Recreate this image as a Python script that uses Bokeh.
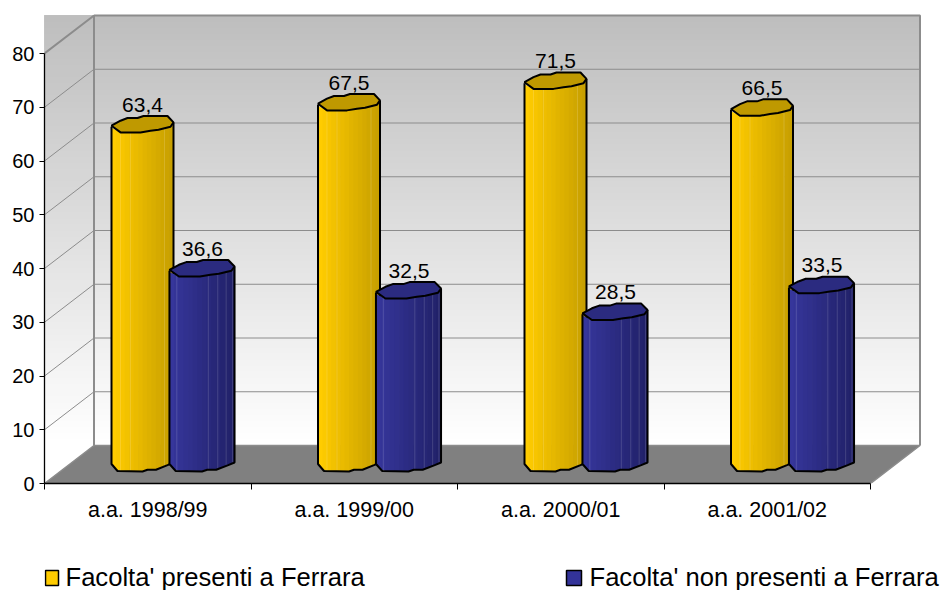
import numpy as np
from bokeh.embed import file_html
from bokeh.resources import INLINE
from bokeh.plotting import figure
from bokeh.layouts import column
from bokeh.models import Range1d, FixedTicker
from bokeh.core.properties import value

categories = ["a.a. 1998/99", "a.a. 1999/00", "a.a. 2000/01", "a.a. 2001/02"]
presenti = [63.4, 67.5, 71.5, 66.5]
non_presenti = [36.6, 32.5, 28.5, 33.5]
y_ticks = [0, 10, 20, 30, 40, 50, 60, 70, 80]
series_names = ["Facolta' presenti a Ferrara", "Facolta' non presenti a Ferrara"]

FONT = "Liberation Sans"
W, H = 942, 530
LEG_H = 60
LEFT, TOP_B, BOTTOM_B = 44, 13, 47
fw, fh = W - LEFT, 470
PX_X = 206.5          # pixels per category
PX_Y = 430 / 80       # pixels per value unit
DX = 49.5 / PX_X      # chart depth
DY = 38 / PX_Y

p = figure(width=W, height=H, output_backend="svg", toolbar_location=None,
           x_range=Range1d(0, fw / PX_X), y_range=Range1d(0, fh / PX_Y),
           min_border_left=LEFT, min_border_right=0,
           min_border_top=TOP_B, min_border_bottom=BOTTOM_B)
p.outline_line_color = None
p.grid.visible = False
p.background_fill_color = "white"

# axes
ya = p.yaxis[0]
ya.ticker = FixedTicker(ticks=y_ticks)
ya.bounds = (0, 80)
ya.axis_line_color = "black"
ya.axis_line_width = 1.3
ya.major_tick_line_color = "black"
ya.major_tick_in = 0
ya.major_tick_out = 5
ya.minor_tick_line_color = None
ya.major_label_standoff = 5
ya.major_label_text_font = FONT
ya.major_label_text_font_size = "20px"
ya.major_label_text_color = "black"

xa = p.xaxis[0]
xa.ticker = FixedTicker(ticks=[i + 0.5 for i in range(4)], minor_ticks=[0, 1, 2, 3, 4])
xa.bounds = (0, 4)
xa.major_label_overrides = {i + 0.5: c for i, c in enumerate(categories)}
xa.axis_line_color = "black"
xa.axis_line_width = 1.3
xa.major_tick_line_color = None
xa.minor_tick_line_color = "black"
xa.minor_tick_in = 0
xa.minor_tick_out = 6
xa.major_label_standoff = 8
xa.major_label_text_font = FONT
xa.major_label_text_font_size = "21.5px"
xa.major_label_text_color = "black"

# walls: gradient behind everything
n = 70
wall_top = 80 + DY
levels = np.linspace(DY, wall_top, n + 1)[:-1]
tone = np.linspace(255, 190, n).round().astype(int)
p.quad(left=0, right=4 + DX, bottom=levels, top=wall_top,
       fill_color=[f"#{t:02x}{t:02x}{t:02x}" for t in tone], line_color=None)

# grid lines
GRID = "#8c8c8c"
for v in y_ticks[1:-1]:
    p.line([0, DX, 4 + DX], [v, v + DY, v + DY], line_color=GRID, line_width=1)
# floor
p.patch([0, 4, 4 + DX, DX], [0, 0, DY, DY], fill_color="#808080", line_color=None)
# heavier frame of walls
p.line([0, DX, DX], [80, 80 + DY, DY], line_color=GRID, line_width=2)
p.line([DX, 4 + DX, 4 + DX], [80 + DY, 80 + DY, DY], line_color=GRID, line_width=2)
p.line([0, DX, 4 + DX, 4], [0, DY, DY, 0], line_color=GRID, line_width=1.5)

# shape of a bar, in pixels around its axis
cap_up_x = [-31, -22, -15, -5, 1, 25, 31]
cap_up_y = [2, -3, -5.7, -5.7, -7.7, -7.7, -1.3]
cap_lo_x = [-31, -22, -2, 8, 16, 28, 31]
cap_lo_y = [4.3, 8.7, 8.7, 7, 6, 3, -1.3]
base_x = [-31, -25, 0, 5, 13.5, 25, 31]
base_y = [-0.5, 6.5, 7, 5.3, 5.3, 0.6, -2]


def draw_bar(cx_px, cat, val, c_left, c_right, cap, lights, k=1.0):
    cx = cat + 0.5 + DX / 2 + cx_px / PX_X
    base = DY / 2
    top = val + DY / 2
    us = np.linspace(-31, 31, 15)
    cl = np.array(c_left)
    cr = np.array(c_right)
    xs, ys, cols = [], [], []
    for i in range(len(us) - 1):
        a, b = us[i], us[i + 1]
        b2 = min(b + 0.7, 31)
        ta, tb = np.interp([a, b2], cap_lo_x, cap_lo_y)
        ba, bb = np.interp([a, b2], base_x, base_y)
        xs.append([cx + k * a / PX_X, cx + k * b2 / PX_X, cx + k * b2 / PX_X, cx + k * a / PX_X])
        ys.append([top - ta / PX_Y, top - tb / PX_Y, base - bb / PX_Y, base - ba / PX_Y])
        f = i / (len(us) - 2)
        c = (cl + (cr - cl) * f).round().astype(int)
        cols.append(f"#{c[0]:02x}{c[1]:02x}{c[2]:02x}")
    p.patches(xs, ys, fill_color=cols, line_color=None)
    for u in lights:
        t = np.interp(u, cap_lo_x, cap_lo_y)
        b = np.interp(u, base_x, base_y)
        p.line([cx + k * u / PX_X] * 2, [top - t / PX_Y, base - b / PX_Y],
               line_color="white", line_alpha=0.15, line_width=1)
    bx = cx + k * np.array(base_x) / PX_X
    by = base - np.array(base_y) / PX_Y
    px_ = [cx - k * 31 / PX_X] + list(bx) + [cx + k * 31 / PX_X]
    py_ = [top - 3 / PX_Y] + list(by) + [top + 1.3 / PX_Y]
    p.line(px_, py_, line_color="black", line_width=2)
    cap_x = cx + k * np.array(cap_up_x + cap_lo_x[::-1][1:-1]) / PX_X
    cap_y = top - np.array(cap_up_y + cap_lo_y[::-1][1:-1]) / PX_Y
    p.patch(cap_x, cap_y, fill_color=cap, line_color="black", line_width=2)


YEL_L, YEL_R, YEL_CAP = (255, 204, 0), (200, 160, 0), "#bf9900"
BLU_L, BLU_R, BLU_CAP = (54, 54, 155), (33, 33, 105), "#2b2b80"
for i in range(4):
    draw_bar(-30, i, presenti[i], YEL_L, YEL_R, YEL_CAP, [-22, -12, 22])
for i in range(4):
    draw_bar(29.5, i, non_presenti[i], BLU_L, BLU_R, BLU_CAP, [-24, 6, 15, 23, 29], k=1.05)

# data labels
lx = [i + 0.5 + DX / 2 - 30 / PX_X for i in range(4)] + [i + 0.5 + DX / 2 + 30 / PX_X for i in range(4)]
vals = presenti + non_presenti
ly = [v + DY / 2 for v in vals]
p.text(lx, ly, text=[f"{v:.1f}".replace(".", ",") for v in vals],
       text_font=value(FONT), text_font_size="21px", text_color="black",
       text_align="center", text_baseline="alphabetic", y_offset=-19)

# legend strip: a second figure, its frame lined up with the chart's frame
leg = figure(width=W, height=LEG_H, output_backend="svg", toolbar_location=None,
             x_range=Range1d(LEFT, W), y_range=Range1d(LEG_H, 0),
             min_border_left=LEFT, min_border_right=0, min_border_top=0, min_border_bottom=0,
             x_axis_type=None, y_axis_type=None)
leg.outline_line_color = None
leg.grid.visible = False
leg.quad(left=[45, 566], right=[58, 581], top=[40, 40], bottom=[55, 55],
         fill_color=["#ffcc00", "#333399"], line_color="black", line_width=1.5)
leg.text([65, 589], [46, 46], text=series_names,
         text_font=value(FONT), text_font_size="25.6px", text_color="black",
         text_align="left", text_baseline="alphabetic")

open("out.html", "w").write(file_html(column(p, leg, spacing=0), INLINE))
